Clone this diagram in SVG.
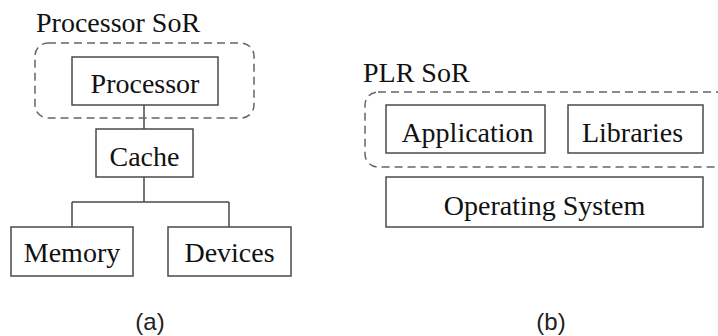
<svg xmlns="http://www.w3.org/2000/svg" width="718" height="336" viewBox="0 0 718 336">
  <style>
    .box { fill: #ffffff; stroke: #4a4a4a; stroke-width: 1.5; }
    .sor { fill: none; stroke: #666666; stroke-width: 1.5; stroke-dasharray: 8 5; }
    .wire { fill: none; stroke: #4a4a4a; stroke-width: 1.5; }
    .lbl { font-family: "Liberation Serif", "Times New Roman", serif; font-size: 28px; fill: #111111; text-anchor: middle; }
    .tag { font-family: "Liberation Serif", "Times New Roman", serif; font-size: 28px; fill: #111111; }
    .cap { font-family: "Liberation Sans", Arial, sans-serif; font-size: 24px; fill: #222222; text-anchor: middle; }
  </style>
  <rect width="718" height="336" fill="#ffffff"/>

  <!-- (a) processor hierarchy -->
  <g id="connectors">
    <path class="wire" d="M144 105 V129"/>
    <path class="wire" d="M144 177 V202 M72 202 H229 M72 202 V227 M229 202 V227"/>
  </g>

  <g id="processor-sor">
    <rect class="sor" x="35" y="43" width="219" height="75" rx="13"/>
    <text class="tag" x="36" y="32">Processor SoR</text>
  </g>
  <g id="processor">
    <rect class="box" x="72" y="57" width="146" height="48"/>
    <text class="lbl" x="145" y="93">Processor</text>
  </g>
  <g id="cache">
    <rect class="box" x="96" y="129" width="97" height="48"/>
    <text class="lbl" x="144.5" y="166">Cache</text>
  </g>
  <g id="memory">
    <rect class="box" x="11" y="227" width="122" height="49"/>
    <text class="lbl" x="72" y="262">Memory</text>
  </g>
  <g id="devices">
    <rect class="box" x="168" y="227" width="123" height="49"/>
    <text class="lbl" x="229.5" y="262">Devices</text>
  </g>
  <text class="cap" x="150" y="330">(a)</text>

  <!-- (b) software stack -->
  <g id="plr-sor">
    <rect class="sor" x="365" y="92" width="364" height="75" rx="13"/>
    <text class="tag" x="363" y="82">PLR SoR</text>
  </g>
  <g id="application">
    <rect class="box" x="386" y="105" width="159" height="48"/>
    <text class="lbl" x="467.5" y="142">Application</text>
  </g>
  <g id="libraries">
    <rect class="box" x="568" y="105" width="135" height="48"/>
    <text class="lbl" x="632.5" y="142">Libraries</text>
  </g>
  <g id="operating-system">
    <rect class="box" x="386" y="177" width="317" height="50"/>
    <text class="lbl" x="544.5" y="215">Operating System</text>
  </g>
  <text class="cap" x="551" y="330">(b)</text>
</svg>
